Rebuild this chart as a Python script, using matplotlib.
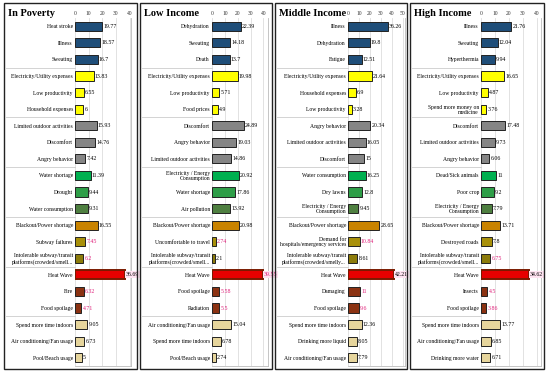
import matplotlib
matplotlib.use("Agg")
import matplotlib.pyplot as plt
from matplotlib.patches import Rectangle

plt.rcParams['font.family'] = ['Liberation Serif', 'DejaVu Serif']

titles = ["In Poverty", "Low Income", "Middle Income", "High Income"]

poverty_labels = ["Heat stroke", "Illness", "Sweating",
                  "Electricity/Utility expenses", "Low productivity", "Household expenses",
                  "Limited outdoor activities", "Discomfort", "Angry behavior",
                  "Water shortage", "Drought", "Water consumption",
                  "Blackout/Power shortage", "Subway failures",
                  "Intolerable subway/transit\nplatforms(crowded/smell...",
                  "Heat Wave", "Fire", "Food spoilage",
                  "Spend more time indoors", "Air conditioning/Fan usage", "Pool/Beach usage"]
poverty_values = [19.77, 18.57, 16.7, 13.83, 6.55, 6, 15.93, 14.76, 7.42,
                  11.39, 9.44, 9.31, 16.55, 7.45, 6.2, 36.69, 6.32, 4.71, 9.05, 6.73, 5]

low_labels = ["Dehydration", "Sweating", "Death",
              "Electricity/Utility expenses", "Low productivity", "Food prices",
              "Discomfort", "Angry behavior", "Limited outdoor activities",
              "Electricity / Energy\nConsumption", "Water shortage", "Air pollution",
              "Blackout/Power shortage", "Uncomfortable to travel",
              "Intolerable subway/transit\nplatforms(crowded/smell...",
              "Heat Wave", "Food spoilage", "Radiation",
              "Air conditioning/Fan usage", "Spend more time indoors", "Pool/Beach usage"]
low_values = [22.39, 14.18, 13.7, 19.98, 5.71, 4.9, 24.89, 19.03, 14.86,
              20.92, 17.86, 13.92, 20.98, 2.74, 2.1, 39.55, 5.58, 5.5, 15.04, 6.78, 2.74]

middle_labels = ["Illness", "Dehydration", "Fatigue",
                 "Electricity/Utility expenses", "Household expenses", "Low productivity",
                 "Angry behavior", "Limited outdoor activities", "Discomfort",
                 "Water consumption", "Dry lawns", "Electricity / Energy\nConsumption",
                 "Blackout/Power shortage", "Demand for\nhospitals/emergency services",
                 "Intolerable subway/transit\nplatforms(crowded/smelly...",
                 "Heat Wave", "Damaging", "Food spoilage",
                 "Spend more time indoors", "Drinking more liquid", "Air conditioning/Fan usage"]
middle_values = [36.26, 19.8, 12.51, 21.64, 6.9, 3.28, 20.34, 16.05, 15,
                 16.25, 12.8, 9.45, 28.65, 10.84, 8.61, 42.21, 11, 9.6, 12.36, 8.05, 7.79]

high_labels = ["Illness", "Sweating", "Hyperthermia",
               "Electricity/Utility expenses", "Low productivity", "Spend more money on\nmedicine",
               "Discomfort", "Limited outdoor activities", "Angry behavior",
               "Dead/Sick animals", "Poor crop", "Electricity / Energy\nConsumption",
               "Blackout/Power shortage", "Destroyed roads",
               "Intolerable subway/transit\nplatforms(crowded/smell...",
               "Heat Wave", "Insects", "Food spoilage",
               "Spend more time indoors", "Air conditioning/Fan usage", "Drinking more water"]
high_values = [21.76, 12.04, 9.94, 16.65, 4.87, 3.76, 17.48, 9.73, 6.06,
               11, 9.2, 7.79, 13.71, 7.8, 6.75, 34.62, 4.5, 3.86, 13.77, 6.85, 6.71]

# which value labels are printed in magenta
pink_idx = [[13, 14, 16, 17], [13, 15, 16, 17], [13, 16, 17], [14, 16, 17]]

all_labels = [poverty_labels, low_labels, middle_labels, high_labels]
all_values = [poverty_values, low_values, middle_values, high_values]

blue, yellow, grey, tan = '#1F4E79', '#FFFF00', '#858585', '#E6D59C'
bar_colors = ([blue] * 3 + [yellow] * 3 + [grey] * 3 +
              ['#00B050', '#2E9E48', '#4E7F40'] +
              ['#C98300', '#A8900A', '#8C7B0A'] +
              ['#E60000', '#8B3212', '#8B3212'] + [tan] * 3)

# panel geometry in pixels: frame left/right, axes left/right, x max, ticks
W, H = 550, 376
panels = [(4, 137, 75, 131, 41, [0, 10, 20, 30, 40]),
          (140, 272, 212, 268, 43.5, [0, 10, 20, 30, 40]),
          (275, 407, 348, 405, 52, [0, 10, 20, 30, 40, 50]),
          (410, 544, 481, 541, 43, [0, 10, 20, 30, 40])]
ax_top, ax_bot = 18, 366

fig = plt.figure(figsize=(5.5, 3.76), dpi=100)

for p, (fl, fr, al, ar, xmax, ticks) in enumerate(panels):
    labels, values = all_labels[p], all_values[p]
    ax = fig.add_axes([al / W, 1 - ax_bot / H, (ar - al) / W, (ax_bot - ax_top) / H])
    y = list(range(len(values)))
    for i, v in enumerate(values):
        col = '#E0207A' if i in pink_idx[p] else 'black'
        if i == 15:
            ax.barh(i, v, height=0.55, color=bar_colors[i], edgecolor='#7A1A00', lw=1.4, zorder=3)
            ax.text(v + xmax * 0.015, i, f"{v:g}", fontsize=4.2, va='center', ha='left',
                    color=col, zorder=4,
                    bbox=dict(boxstyle='square,pad=0.15', fc='#FFE3F1', ec='none'))
        else:
            ax.barh(i, v, height=0.55, color=bar_colors[i], edgecolor='#222222', lw=0.7, zorder=3)
            ax.text(v + xmax * 0.02, i, f"{v:g}", fontsize=4.2, va='center', ha='left',
                    color=col, zorder=4)
    ax.set_ylim(len(values) - 0.5, -0.5)
    ax.set_xlim(0, xmax)
    ax.set_yticks(y)
    ax.set_yticklabels(labels, fontsize=4.1, linespacing=1.05)
    ax.set_xticks(ticks)
    ax.xaxis.tick_top()
    ax.tick_params(axis='both', length=0, pad=1.5)
    ax.tick_params(axis='x', labelsize=4, labelcolor='#333333')
    ax.grid(axis='x', color='#DDDDDD', lw=0.6, zorder=0)
    for s in ['left', 'top']:
        ax.spines[s].set_visible(False)
    for s in ['right', 'bottom']:
        ax.spines[s].set_color('#BBBBBB')
        ax.spines[s].set_linewidth(0.6)

    # light separators between groups across the label column
    x0 = (fl + 2 - al) / (ar - al)
    for g in range(1, 7):
        ax.plot([x0, 0], [g * 3 - 0.5] * 2, transform=ax.get_yaxis_transform(),
                color='#CCCCCC', lw=0.6, clip_on=False)

    fig.text((fl + 4) / W, 1 - 14 / H, titles[p], fontsize=7.5, fontweight='bold',
             va='center', ha='left')
    fig.add_artist(Rectangle((fl / W, 1 - 369 / H), (fr - fl) / W, 366 / H,
                             transform=fig.transFigure, fill=False,
                             edgecolor='#222222', lw=1))

fig.savefig("out.png", dpi=100)
